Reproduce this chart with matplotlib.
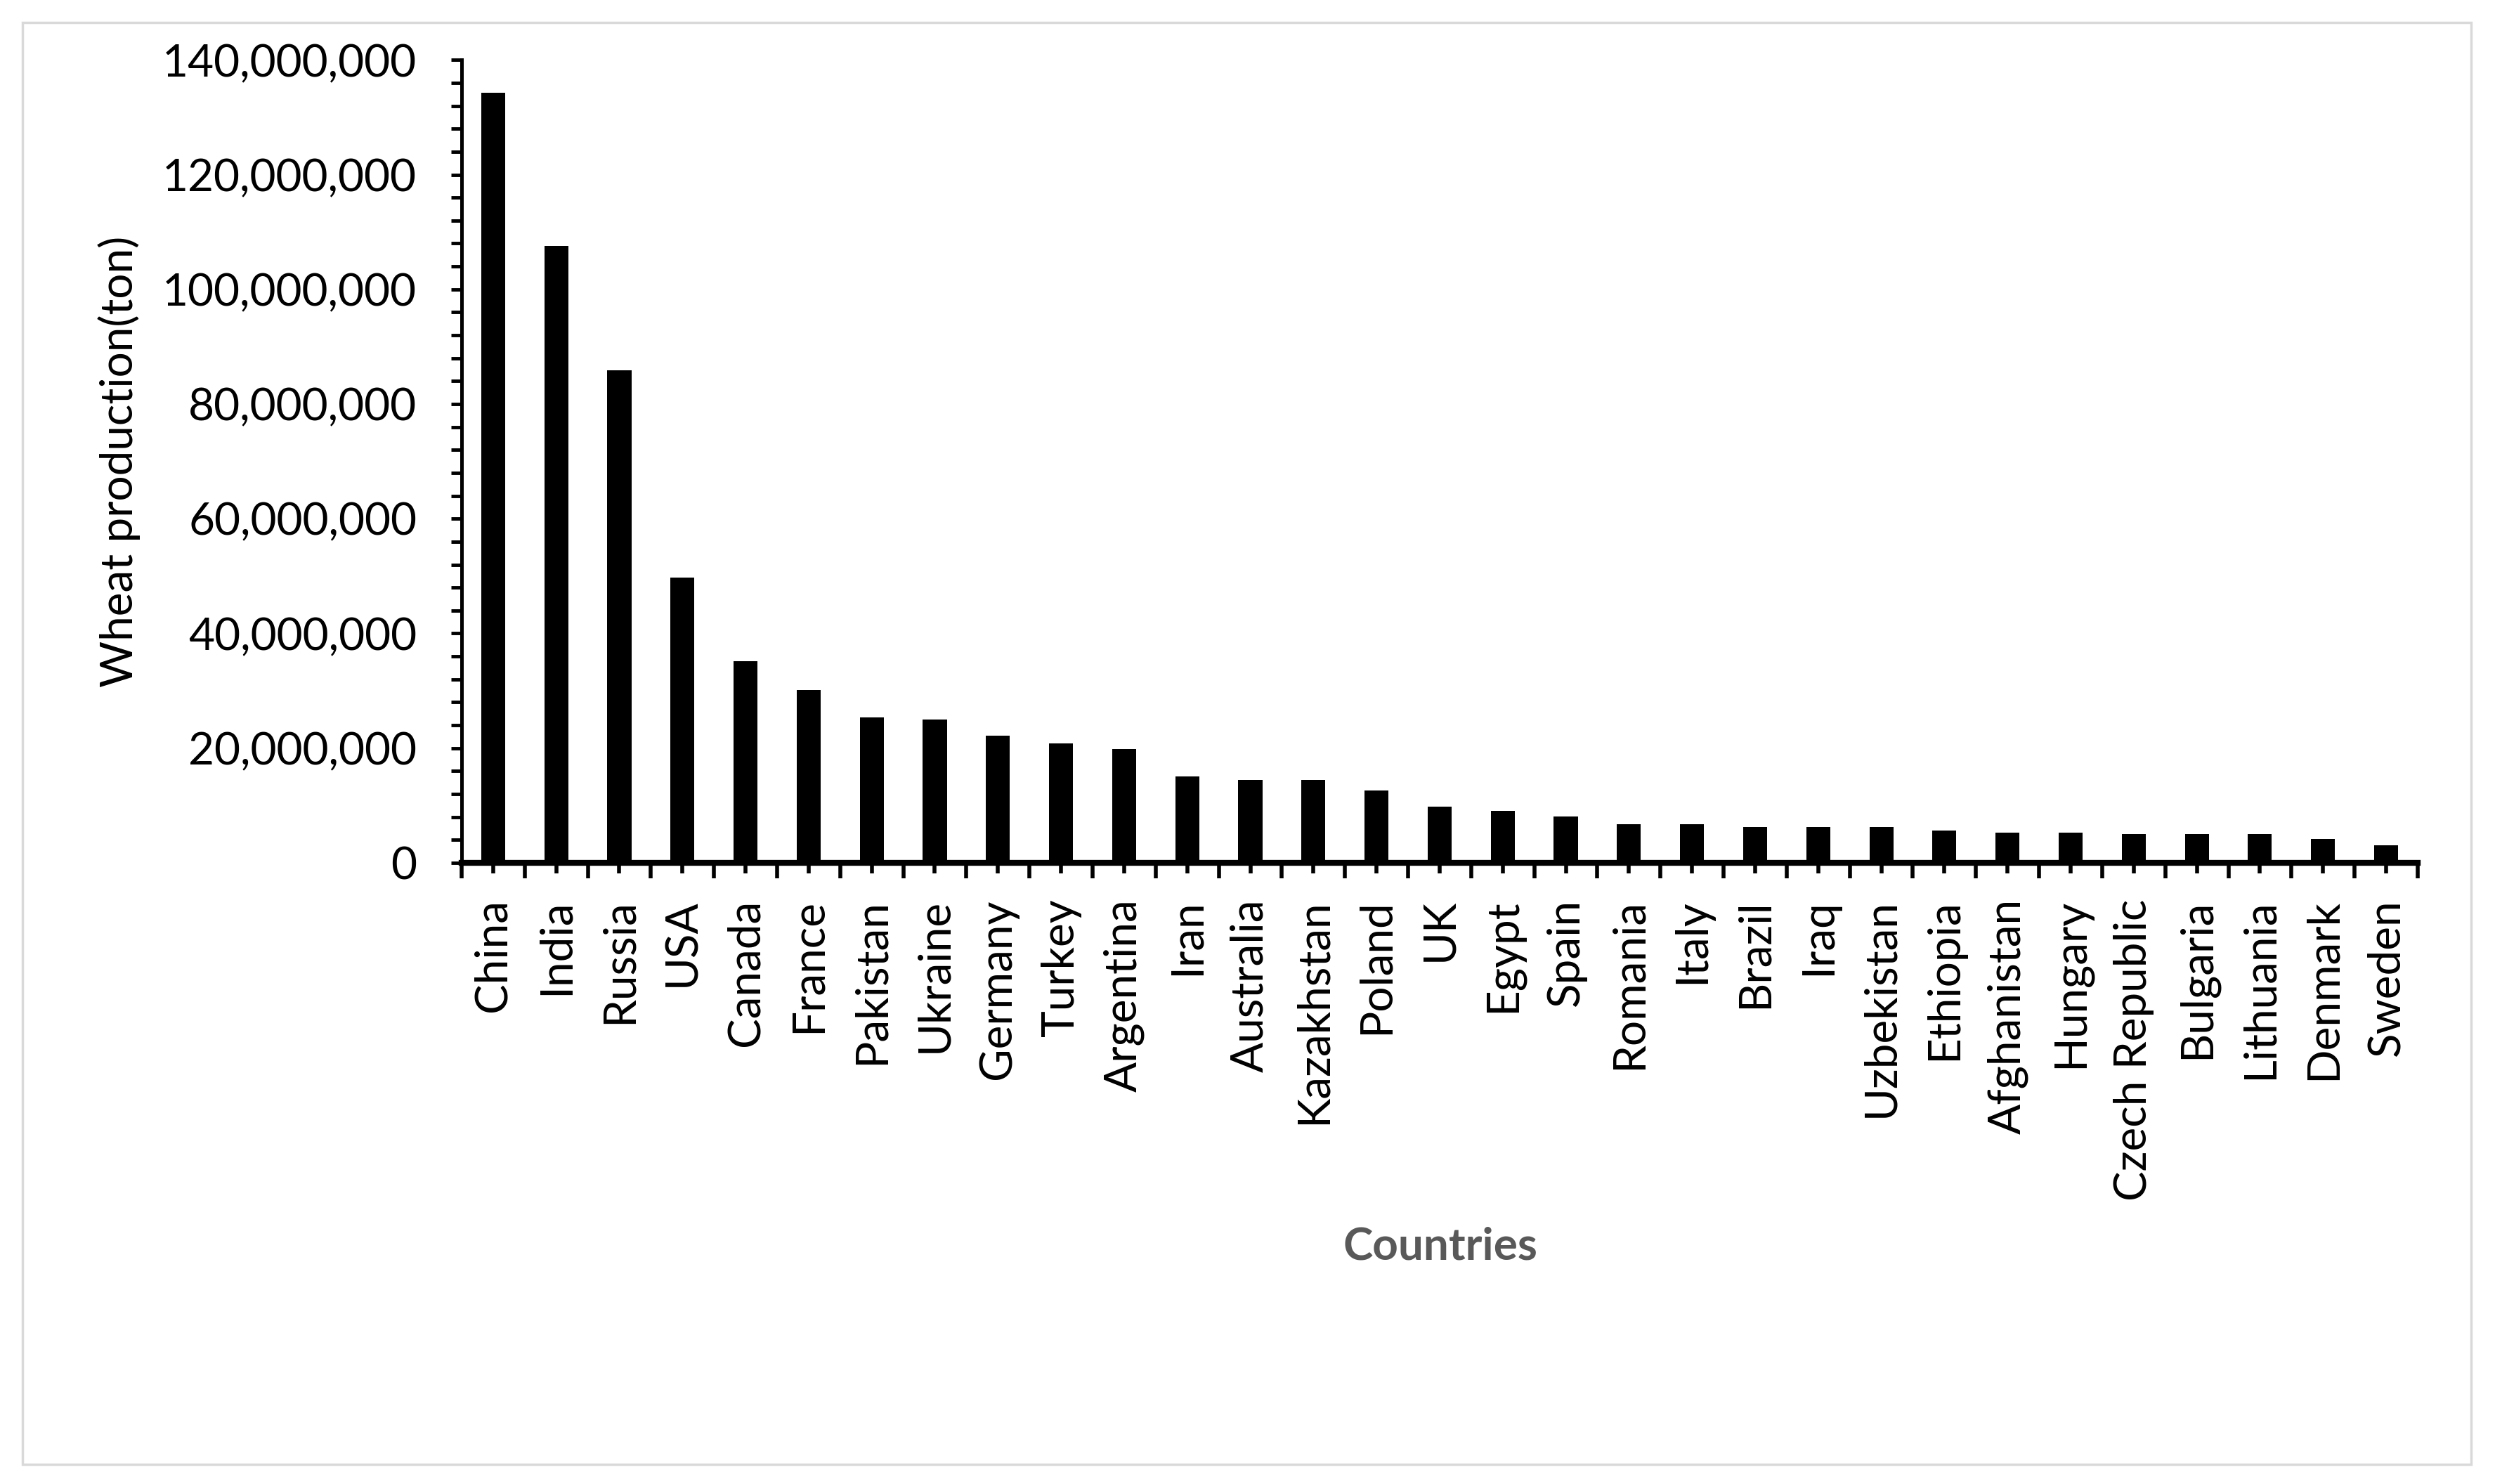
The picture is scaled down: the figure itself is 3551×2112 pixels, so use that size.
import matplotlib.pyplot as plt
from matplotlib.patches import Rectangle
from matplotlib.ticker import FuncFormatter, FixedLocator, MultipleLocator
import numpy as np

# -------------------------------
# Data
# -------------------------------

countries = [
    "China", "India", "Russia", "USA", "Canada", "France", "Pakistan",
    "Ukraine", "Germany", "Turkey", "Argentina", "Iran", "Australia",
    "Kazakhstan", "Poland", "UK", "Egypt", "Spain", "Romania", "Italy",
    "Brazil", "Iraq", "Uzbekistan", "Ethiopia", "Afghanistan", "Hungary",
    "Czech Republic", "Bulgaria", "Lithuania", "Denmark", "Sweden",
]

# million tons
production_mt = [
    134.3, 107.6, 85.9, 49.7, 35.2, 30.1, 25.3,
    25.0, 22.2, 20.8, 19.8, 15.1, 14.4,
    14.4, 12.6, 9.8, 9.1, 8.1, 6.7, 6.7,
    6.3, 6.3, 6.3, 5.6, 5.3, 5.3,
    5.0, 5.0, 5.0, 4.2, 3.1,
]

y_ticks = [0, 20e6, 40e6, 60e6, 80e6, 100e6, 120e6, 140e6]

# -------------------------------
# Figure
# -------------------------------

plt.rcParams["font.family"] = ["Lato", "DejaVu Sans"]

fig = plt.figure(figsize=(35.51, 21.12), dpi=100)
ax = fig.add_axes([0.1850, 0.4186, 0.9690 - 0.1850, 0.9596 - 0.4186])

x = np.arange(len(countries))
values = np.array(production_mt) * 1e6
ax.bar(x, values, width=0.38, color="black", zorder=2)

ax.set_xlim(-0.5, len(countries) - 0.5)
ax.set_ylim(0, 140e6)

# spines
for side in ["top", "right"]:
    ax.spines[side].set_visible(False)
ax.spines["left"].set_linewidth(3.6)
ax.spines["bottom"].set_linewidth(6)
ax.spines["bottom"].set_zorder(3)

# y axis ticks
ax.yaxis.set_major_locator(FixedLocator(y_ticks))
ax.yaxis.set_minor_locator(MultipleLocator(4e6))
ax.yaxis.set_major_formatter(FuncFormatter(lambda v, p: f"{int(v):,}"))
ax.tick_params(axis="y", which="both", direction="out", length=11,
               width=3.5, color="black")
ax.tick_params(axis="y", which="major", labelsize=46, pad=35)

# x axis: long ticks at boundaries, short ticks + labels at centres
ax.xaxis.set_major_locator(FixedLocator(np.arange(-0.5, len(countries), 1.0)))
ax.xaxis.set_major_formatter(FuncFormatter(lambda v, p: ""))
ax.xaxis.set_minor_locator(FixedLocator(x))
ax.set_xticklabels(countries, minor=True, rotation=90, fontsize=46)
ax.tick_params(axis="x", which="major", direction="out", length=16,
               width=4, color="black")
ax.tick_params(axis="x", which="minor", direction="out", length=11,
               width=4, color="black", pad=26)

# axis titles
fig.text(170 / 3551, 1 - 657 / 2112, "Wheat production(ton)", rotation=90,
         ha="center", va="center", fontsize=46, color="black")
fig.text(2050 / 3551, 1 - 1774 / 2112, "Countries", ha="center", va="center",
         fontsize=46, fontweight="bold", color="#595959")

# outer chart border
fig.patches.append(Rectangle((32 / 3551, 1 - 2084 / 2112),
                             (3517 - 32) / 3551, (2084 - 32) / 2112,
                             transform=fig.transFigure, fill=False,
                             edgecolor="#d9d9d9", linewidth=2.5))

fig.savefig("out.png", dpi=100)
